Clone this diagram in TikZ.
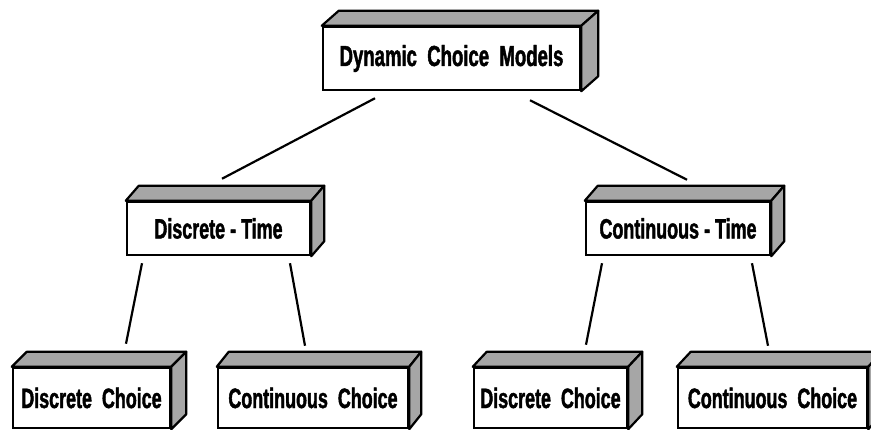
\documentclass[tikz,border=0pt]{standalone}
\usepackage{fontspec}
\newfontfamily\boxfont[FakeStretch=0.64, WordSpace=2, FakeBold=1.5]{Liberation Sans}
\usetikzlibrary{calc}
\tikzset{
  slab/.style={draw, line width=2.5pt, fill=white, inner sep=0pt,
    font={\boxfont\bfseries\fontsize{28}{30}\selectfont}},
  face/.style={draw, line width=2.2pt, fill=black!35, line join=round},
  link/.style={line width=2.2pt},
}
% shaded top and right faces of a slab node
\newcommand\slabfaces[3]{%
  \filldraw[face] (#1.north west) -- ++(#2,-#3) -- ($(#1.north east)+(#2,-#3)$) -- (#1.north east) -- cycle;
  \filldraw[face] (#1.north east) -- ($(#1.north east)+(#2,-#3)$) -- ($(#1.south east)+(#2,-#3)$) -- (#1.south east) -- cycle;
}
\newcommand\dash{\hspace{5pt}-\hspace{5pt}}

\begin{document}
\begin{tikzpicture}[x=1pt, y=-1pt]
    \clip (0,0) rectangle (871,430);
    \node[slab, minimum width=257pt, minimum height=63pt,
      font={\boxfont\bfseries\fontsize{29}{31}\selectfont}] (dcm) at (451.5,58.5) {Dynamic Choice Models};
    \slabfaces{dcm}{17}{15}
    \node[slab, minimum width=183pt, minimum height=53pt] (dtime) at (218.5,228.5) {Discrete\dash Time};
    \slabfaces{dtime}{13}{15}
    \node[slab, minimum width=184pt, minimum height=53pt] (ctime) at (678,228.5) {Continuous\dash Time};
    \slabfaces{ctime}{13}{15}
    \node[slab, minimum width=157pt, minimum height=60pt] (dchA) at (91.5,398) {Discrete Choice};
    \slabfaces{dchA}{15}{15}
    \node[slab, minimum width=190pt, minimum height=60pt] (cchA) at (313,398) {Continuous Choice};
    \slabfaces{cchA}{12}{15}
    \node[slab, minimum width=153pt, minimum height=60pt] (dchB) at (550.5,398) {Discrete Choice};
    \slabfaces{dchB}{14}{15}
    \node[slab, minimum width=189pt, minimum height=60pt] (cchB) at (772.5,398) {Continuous Choice};
    \slabfaces{cchB}{14}{15}

    \draw[link] ([xshift=-76.5pt,yshift=-7pt]dcm.south) -- ([xshift=3.5pt,yshift=22pt]dtime.north);
    \draw[link] ([xshift=78.5pt,yshift=-9pt]dcm.south) -- ([xshift=9pt,yshift=21pt]ctime.north);
    \draw[link] ([xshift=-76.5pt,yshift=-7pt]dtime.south) -- ([xshift=34.5pt,yshift=23pt]dchA.north);
    \draw[link] ([xshift=71.5pt,yshift=-7pt]dtime.south) -- ([xshift=-8pt,yshift=21pt]cchA.north);
    \draw[link] ([xshift=-76pt,yshift=-7pt]ctime.south) -- ([xshift=35.5pt,yshift=22pt]dchB.north);
    \draw[link] ([xshift=74pt,yshift=-7pt]ctime.south) -- ([xshift=-4.5pt,yshift=21pt]cchB.north);
\end{tikzpicture}
\end{document}
